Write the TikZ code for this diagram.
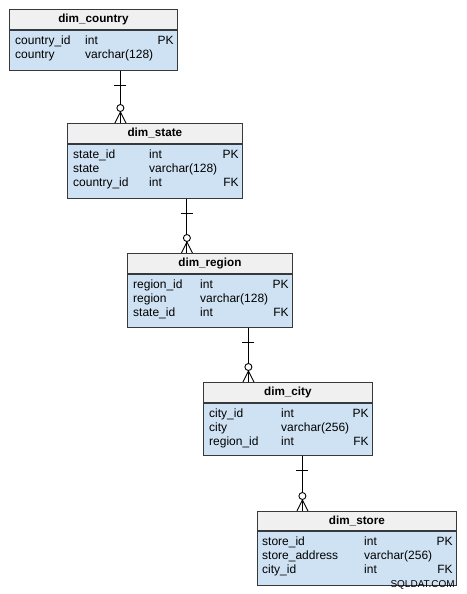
\documentclass[tikz,border=0pt]{standalone}
\usepackage{fontspec}
\setmainfont{Liberation Sans}
\usetikzlibrary{positioning,calc}
\definecolor{hdrgray}{HTML}{F0F0F0}
\definecolor{bodyblue}{HTML}{CFE2F3}
\definecolor{edgegray}{HTML}{36393D}

\tikzset{
  tblhead/.style={draw=edgegray, fill=hdrgray, line width=0.8pt, inner sep=0pt,
    minimum height=20pt, anchor=north west, font=\bfseries\fontsize{11.7}{13}\selectfont},
  tblbody/.style={draw=edgegray, fill=bodyblue, line width=0.8pt, inner sep=0pt},
  fld/.style={anchor=base west, inner sep=0pt, font=\fontsize{12}{14}\selectfont},
  fkey/.style={anchor=base east, inner sep=0pt, font=\fontsize{12}{14}\selectfont},
  link/.style={draw=black, line width=0.9pt},
  onebar/.pic={\draw[link] (-6,0) -- (6,0);},
  zeromany/.pic={
    \draw[link] (0,-11) -- (-5.5,0) (0,-11) -- (5.5,0);
    \draw[link,fill=white] (0,-15) circle (3.5pt);
  }
}

\begin{document}
\begin{tikzpicture}[x=1pt,y=-1pt]
  \useasboundingbox (0,0) rectangle (466,594);

  % dim_country
  \node[tblhead, minimum width=168pt] (country_h) at (9,9) {dim\_country};
  \node[tblbody, minimum width=168pt, minimum height=40pt, below=0pt of country_h] (country_b) {};
  \foreach \i/\n/\t/\k in {0/country\_id/int/PK, 1/country/varchar(128)/} {
    \node[fld] at ($(country_b.north west)+(6,15+14*\i)$) {\n};
    \node[fld] at ($(country_b.north west)+(76,15+14*\i)$) {\t};
    \node[fkey] at ($(country_b.north east)+(-4,15+14*\i)$) {\k};
  }

  % dim_state
  \node[tblhead, minimum width=175pt] (state_h) at (67,123) {dim\_state};
  \node[tblbody, minimum width=175pt, minimum height=54pt, below=0pt of state_h] (state_b) {};
  \foreach \i/\n/\t/\k in {0/state\_id/int/PK, 1/state/varchar(128)/, 2/country\_id/int/FK} {
    \node[fld] at ($(state_b.north west)+(6,14.5+14*\i)$) {\n};
    \node[fld] at ($(state_b.north west)+(82,14.5+14*\i)$) {\t};
    \node[fkey] at ($(state_b.north east)+(-4,14.5+14*\i)$) {\k};
  }

  % dim_region
  \node[tblhead, minimum width=165pt] (region_h) at (127,253) {dim\_region};
  \node[tblbody, minimum width=165pt, minimum height=53pt, below=0pt of region_h] (region_b) {};
  \foreach \i/\n/\t/\k in {0/region\_id/int/PK, 1/region/varchar(128)/, 2/state\_id/int/FK} {
    \node[fld] at ($(region_b.north west)+(6,14.5+14*\i)$) {\n};
    \node[fld] at ($(region_b.north west)+(73,14.5+14*\i)$) {\t};
    \node[fkey] at ($(region_b.north east)+(-4,14.5+14*\i)$) {\k};
  }

  % dim_city
  \node[tblhead, minimum width=169pt] (city_h) at (203,382) {dim\_city};
  \node[tblbody, minimum width=169pt, minimum height=52pt, below=0pt of city_h] (city_b) {};
  \foreach \i/\n/\t/\k in {0/city\_id/int/PK, 1/city/varchar(256)/, 2/region\_id/int/FK} {
    \node[fld] at ($(city_b.north west)+(6,14.5+14*\i)$) {\n};
    \node[fld] at ($(city_b.north west)+(78,14.5+14*\i)$) {\t};
    \node[fkey] at ($(city_b.north east)+(-4,14.5+14*\i)$) {\k};
  }

  % dim_store
  \node[tblhead, minimum width=199pt, minimum height=19pt] (store_h) at (257,511) {dim\_store};
  \node[tblbody, minimum width=199pt, minimum height=54pt, below=0pt of store_h] (store_b) {};
  \foreach \i/\n/\t/\k in {0/store\_id/int/PK, 1/store\_address/varchar(256)/, 2/city\_id/int/FK} {
    \node[fld] at ($(store_b.north west)+(5,14.5+14*\i)$) {\n};
    \node[fld] at ($(store_b.north west)+(107,14.5+14*\i)$) {\t};
    \node[fkey] at ($(store_b.north east)+(-4,14.5+14*\i)$) {\k};
  }

  % relationships (one to zero-or-many)
  \foreach \src/\dst/\dx in {country/state/27, state/region/32, region/city/38.5, city/store/14.5} {
    \coordinate (\src_out) at ([xshift=\dx pt]\src_b.south);
    \coordinate (\dst_in) at (\src_out |- \dst_h.north);
    \draw[link] (\src_out) -- (\dst_in);
    \pic at ($(\src_out)+(0,15)$) {onebar};
    \pic at (\dst_in) {zeromany};
  }

  % watermark
  \node[anchor=base east, inner sep=0pt, font=\fontsize{10}{12}\selectfont] (mark) at (455,587) {SQLDAT.COM};
\end{tikzpicture}
\end{document}
